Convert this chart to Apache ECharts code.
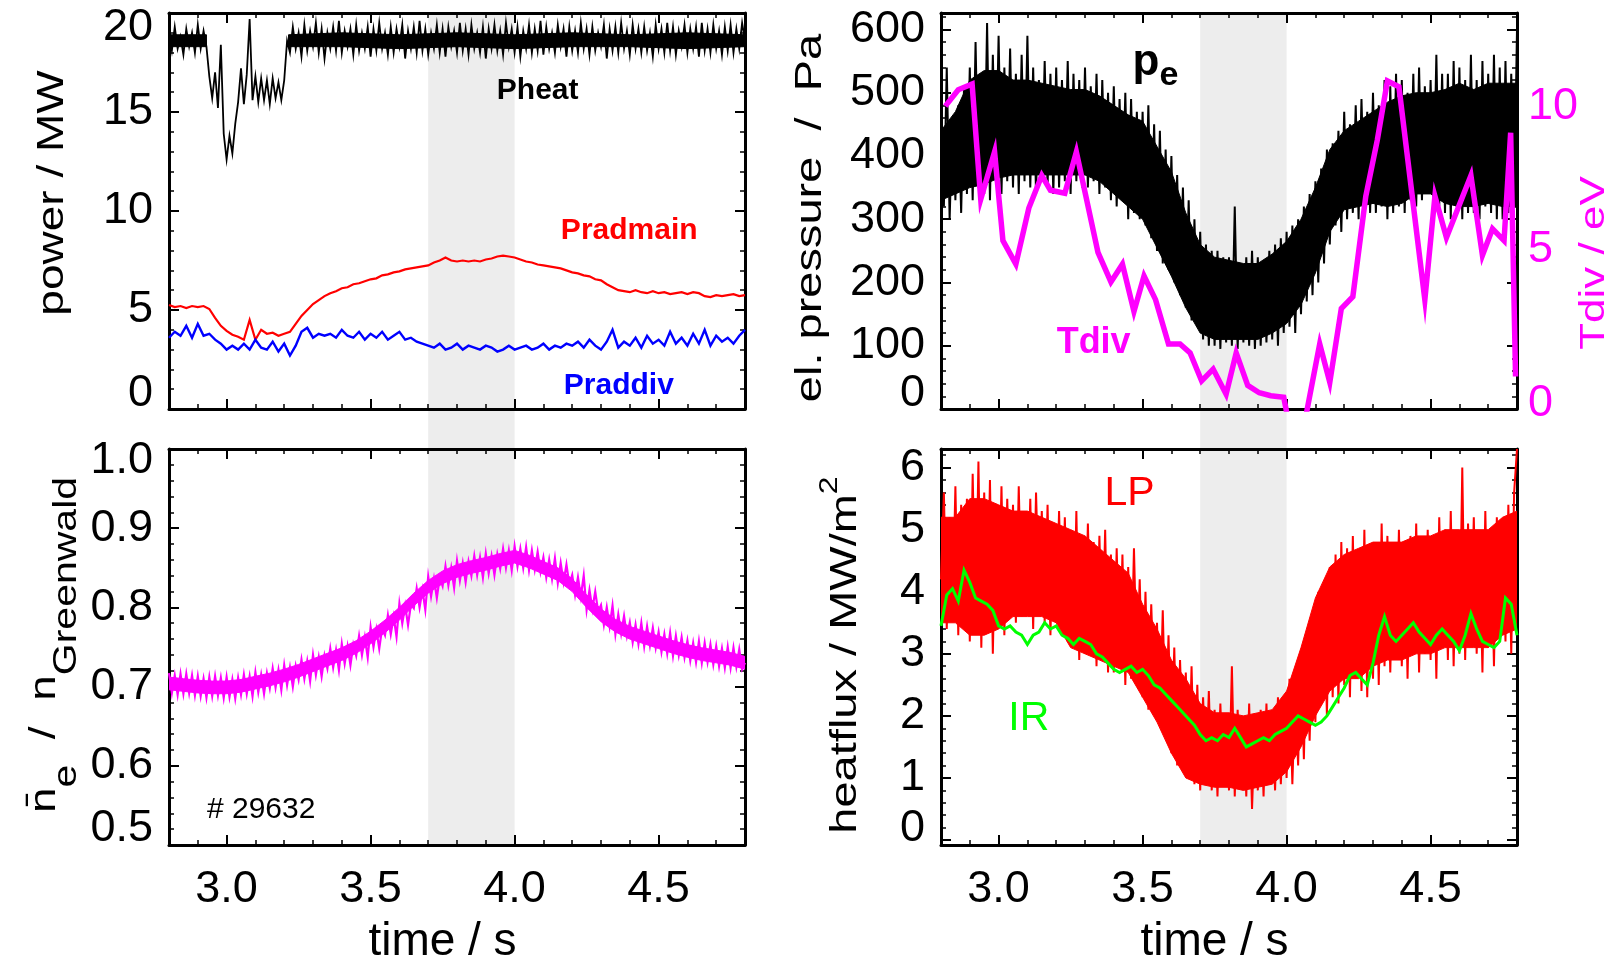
<!DOCTYPE html>
<html>
<head>
<meta charset="utf-8">
<script src="https://cdn.jsdelivr.net/npm/echarts/dist/echarts.min.js"></script>
<style>html,body{margin:0;padding:0;background:#fff}#c{width:1615px;height:966px}</style>
</head>
<body>
<div id="c"></div>
<script>
// ---------------- data ----------------
const T_START = 2.8;          // first sample time of the sampled traces (s)
const DT_FINE = 0.01;         // sampling step of dense traces (s)
const DT_MED = 0.02;          // sampling step of smoother traces (s)
const timeRange = [2.8, 4.8];
const shadeRange = [3.7, 4.0];

// heating power Pheat / MW (every 0.01 s)
const pheat = [
 19.0,18.1,19.3,18.2,18.8,17.9,19.2,18.3,19.0,18.0,19.4,18.2,19.1,18.3,
 16.8,15.7,17.0,15.2,18.4,13.9,12.6,13.8,12.9,14.4,15.5,17.2,15.4,16.9,19.7,15.6,
 16.8,15.5,16.7,15.6,16.6,15.4,16.7,15.7,16.5,15.6,16.6,18.6,
 18.0,19.3,18.2,19.0,17.8,19.4,18.1,19.1,18.3,19.5,
 18.0,19.2,17.7,19.0,18.2,19.3,18.1,19.6,18.0,19.1,
 18.3,19.2,17.9,19.4,18.1,19.0,18.2,19.3,17.8,19.2,
 18.1,19.5,18.2,19.0,17.9,19.3,18.0,19.2,18.3,19.4,
 17.7,19.1,18.2,19.3,18.0,19.6,18.1,19.2,17.9,19.0,
 18.2,19.4,18.0,19.2,17.8,19.3,18.3,19.1,18.0,19.5,
 18.1,19.2,17.9,19.4,18.2,19.0,18.0,19.3,17.7,19.2,
 18.2,19.4,18.1,19.1,17.9,19.5,18.3,19.2,18.0,19.3,
 17.8,19.1,18.2,19.4,18.0,19.2,18.1,19.6,17.9,19.3,
 18.2,19.0,18.0,19.4,18.3,19.2,17.8,19.3,18.1,19.1,
 18.0,19.5,18.2,19.2,17.9,19.3,18.1,19.0,18.3,19.4,
 17.7,19.2,18.1,19.3,18.0,19.5,18.2,19.1,17.9,19.4,
 18.2,19.2,18.0,19.3,18.1,19.0,17.8,19.4,18.2,19.2,
 18.0,19.5,18.1,19.3,17.9,19.1,18.3,19.4,18.0,19.2,
 18.2,19.3,17.8,19.5,18.1,19.2,18.0,19.4,18.2,19.1,
 17.9,19.3,18.1,19.4,18.0,19.2,18.2,19.5,18.6
];
// solid core of the Pheat noise band (null splits the band)
const pheatCoreT  = [2.80,2.93,null,3.215,3.4,3.6,3.8,4.0,4.2,4.4,4.6,4.8];
const pheatCoreLo = [18.3,18.3,null,18.3,18.3,18.2,18.3,18.2,18.3,18.3,18.2,18.3];
const pheatCoreHi = [18.9,18.9,null,18.9,19.0,18.9,19.0,18.9,19.0,18.9,19.0,18.9];
// main chamber radiation Pradmain / MW (every 0.02 s)
const pradmain = [
 5.25,5.15,5.2,5.1,5.2,5.15,5.2,5.05,4.6,4.2,
 3.95,3.75,3.65,3.5,4.5,3.5,4.0,3.8,3.85,3.7,
 3.8,3.9,4.3,4.7,5.0,5.3,5.5,5.7,5.85,5.95,
 6.1,6.15,6.3,6.35,6.45,6.55,6.6,6.75,6.8,6.9,
 6.95,7.05,7.1,7.15,7.2,7.25,7.4,7.5,7.65,7.5,
 7.45,7.5,7.45,7.5,7.45,7.55,7.6,7.7,7.75,7.7,
 7.65,7.55,7.45,7.4,7.3,7.25,7.2,7.15,7.1,7.0,
 6.9,6.85,6.75,6.7,6.55,6.5,6.3,6.15,6.0,5.95,
 5.9,6.0,5.9,5.85,5.95,5.85,5.9,5.8,5.85,5.9,
 5.8,5.9,5.85,5.7,5.65,5.75,5.7,5.75,5.8,5.7,
 5.75
];
// divertor radiation Praddiv / MW (every 0.02 s)
const praddiv = [
 3.6,3.9,3.7,4.2,3.6,4.3,3.7,3.8,3.5,3.3,
 3.0,3.2,3.0,3.3,3.0,3.5,3.1,3.0,3.4,2.9,
 3.3,2.7,3.2,3.9,4.1,3.6,3.8,3.7,3.8,3.6,
 4.0,3.7,3.6,3.9,3.5,3.8,3.6,3.9,3.5,3.7,
 3.9,3.5,3.6,3.4,3.3,3.2,3.1,3.3,3.0,3.1,
 3.3,3.0,3.2,3.1,3.0,3.2,3.1,2.9,3.0,3.2,
 3.0,3.1,3.2,3.0,3.1,3.3,3.0,3.2,3.1,3.3,
 3.2,3.4,3.1,3.5,3.2,3.0,3.4,4.0,3.1,3.4,
 3.2,3.6,3.1,3.7,3.3,3.5,3.2,3.9,3.3,3.6,
 3.2,3.8,3.3,4.0,3.2,3.7,3.4,3.6,3.3,3.7,
 4.0
];
// line averaged density / Greenwald density (every 0.01 s)
const density = [
 0.717,0.692,0.714,0.690,0.716, 0.691,0.716,0.692,0.714,0.689,
 0.713,0.688,0.710,0.686,0.712, 0.688,0.713,0.689,0.711,0.686,
 0.712,0.687,0.709,0.685,0.711, 0.690,0.715,0.691,0.713,0.688,
 0.718,0.693,0.715,0.691,0.717, 0.698,0.723,0.699,0.721,0.696,
 0.727,0.702,0.724,0.700,0.726, 0.709,0.734,0.710,0.732,0.707,
 0.740,0.715,0.737,0.713,0.739, 0.723,0.748,0.724,0.746,0.721,
 0.754,0.729,0.751,0.727,0.753, 0.739,0.764,0.740,0.762,0.737,
 0.775,0.750,0.772,0.748,0.774, 0.765,0.790,0.766,0.788,0.763,
 0.805,0.780,0.802,0.778,0.804, 0.799,0.824,0.800,0.822,0.797,
 0.839,0.814,0.836,0.812,0.838, 0.827,0.852,0.828,0.850,0.825,
 0.859,0.834,0.856,0.832,0.858, 0.840,0.865,0.841,0.863,0.838,
 0.868,0.843,0.865,0.841,0.867, 0.849,0.874,0.850,0.872,0.847,
 0.877,0.852,0.874,0.850,0.876, 0.847,0.872,0.848,0.870,0.845,
 0.863,0.838,0.860,0.836,0.862, 0.831,0.856,0.832,0.854,0.829,
 0.841,0.816,0.838,0.814,0.840, 0.797,0.822,0.798,0.820,0.795,
 0.803,0.778,0.800,0.776,0.802, 0.766,0.791,0.767,0.789,0.764,
 0.781,0.756,0.778,0.754,0.780, 0.751,0.776,0.752,0.774,0.749,
 0.769,0.744,0.766,0.742,0.768, 0.739,0.764,0.740,0.762,0.737,
 0.758,0.733,0.755,0.731,0.757, 0.730,0.755,0.731,0.753,0.728,
 0.751,0.726,0.748,0.724,0.750, 0.724,0.749,0.725,0.747,0.722,
 0.730
];
// solid core of the density band (every 0.05 s)
const coreT = [2.80,2.85,2.90,2.95,3.00,3.05,3.10,3.15,3.20,3.25,3.30,3.35,3.40,3.45,3.50,3.55,3.60,3.65,3.70,3.75,
 3.80,3.85,3.90,3.95,4.00,4.05,4.10,4.15,4.20,4.25,4.30,4.35,4.40,4.45,4.50,4.55,4.60,4.65,4.70,4.75,4.80];
const densityCoreLo = [.696,.694,.692,.691,.691,.693,.697,.701,.706,.712,.719,.726,.733,.742,.754,.768,.784,.802,.818,.830,
 .838,.843,.847,.852,.856,.850,.842,.834,.820,.800,.782,.769,.760,.754,.748,.742,.737,.733,.730,.727,.722];
const densityCoreHi = [.712,.710,.708,.707,.707,.709,.713,.717,.722,.728,.735,.742,.749,.758,.770,.784,.800,.818,.834,.846,
 .854,.859,.863,.868,.872,.866,.858,.850,.836,.816,.798,.785,.776,.770,.764,.758,.753,.749,.746,.743,.738];
// electron pressure pe / Pa (every 0.01 s)
const pe = [
 430,320,540,300,460, 330,480,310,510,340, 540,330,580,350,520, 340,610,330,560,360,
 590,340,540,360,570, 350,530,340,560,360, 590,350,540,340,520, 360,550,350,530,340,
 540,350,520,360,550, 340,530,360,520,350, 540,350,510,360,530, 340,520,350,500,330,
 510,320,490,330,500, 300,490,310,470,300, 470,290,480,270,450, 250,440,230,410,220,
 400,200,370,180,350, 160,330,140,300,130, 280,110,260,100,250, 100,250,95,240,105,
 240,100,320,95,230, 105,240,100,250,95, 240,100,230,105,250, 110,260,100,270,120,
 280,130,290,120,300, 150,320,170,340,180, 360,200,380,230,410, 260,420,290,440,280,
 470,300,450,310,480, 300,490,320,470,310, 500,310,480,320,520, 300,510,310,530,320,
 520,310,500,330,530, 320,540,330,510,340, 520,330,560,320,530, 310,530,300,550,320,
 540,300,520,310,560, 310,520,300,550,320, 530,310,560,300,540, 300,550,310,530,320,
 600
];
// solid core of the pe band (every 0.05 s)
const peCoreLo = [330,340,350,355,365,370,370,370,370,370,370,360,340,320,300,255,210,160,120,110,
 110,110,110,120,135,165,215,280,315,320,325,320,325,340,340,325,320,320,325,320,320];
const peCoreHi = [440,470,520,535,535,520,520,515,510,505,505,495,480,465,455,415,375,310,260,240,
 235,230,230,245,265,300,350,410,440,455,470,485,495,500,500,505,515,505,515,515,515];
// divertor temperature Tdiv / eV (vertices of the polyline)
const tdivTime = [2.815,2.86,2.908,2.938,2.986,3.015,3.06,3.105,3.15,3.18,3.23,3.27,3.345,3.39,3.43,3.47,
 3.505,3.545,3.59,3.63,3.665,3.705,3.745,3.79,3.825,3.865,3.905,3.945,3.99,4.02,4.05,4.115,4.15,4.19,
 4.23,4.275,4.315,4.35,4.39,4.48,4.515,4.555,4.64,4.68,4.715,4.755,4.778,4.795];
const tdivVal = [9.85,10.4,10.6,6.7,8.3,5.3,4.5,6.4,7.5,7.0,6.9,8.3,4.9,3.9,4.5,2.9,
 4.1,3.3,1.8,1.8,1.5,0.55,0.95,0.1,1.5,0.4,0.15,0.05,0.0,-1.5,-1.5,1.8,0.5,3.0,
 3.4,6.8,8.7,10.7,10.5,3.3,6.8,5.4,7.5,4.8,5.7,5.3,8.95,0.7];
// heat flux from Langmuir probes, LP / MW m^-2 (every 0.01 s)
const lp = [
 4.2,5.6,3.4,5.2,3.6, 5.7,3.3,5.4,3.8,5.5, 3.2,5.9,3.5,6.1,3.1, 5.6,3.4,5.8,3.0,5.3,
 3.6,5.7,3.3,5.5,3.8, 5.4,3.5,5.7,3.6,5.2, 3.7,5.5,3.4,5.6,3.9, 5.3,3.5,5.4,3.3,5.1,
 3.6,5.3,3.4,5.2,3.2, 5.0,3.1,5.3,2.9,4.9, 3.0,5.1,3.3,4.8,2.8, 4.9,3.1,5.0,2.7,4.6,
 2.7,4.7,2.9,4.6,2.5, 4.4,2.6,4.7,2.8,4.2, 2.3,4.0,2.1,3.8,2.4, 3.5,1.9,3.7,1.8,3.3,
 1.4,3.1,1.2,2.9,1.5, 2.7,1.0,2.8,0.9,2.5, 0.8,2.3,1.0,2.4,0.8, 2.1,0.7,2.2,0.9,2.0,
 0.8,2.8,0.7,2.1,0.9, 2.0,0.7,2.2,0.5,1.9, 0.8,2.1,0.7,2.2,0.9, 2.0,0.8,2.3,0.9,2.1,
 1.0,2.6,0.9,2.4,1.2, 3.0,1.3,3.3,1.6,3.5, 1.9,4.0,2.2,4.1,2.0, 4.4,2.3,4.6,2.2,4.8,
 2.5,4.7,2.3,4.9,2.6, 4.6,2.4,5.0,2.3,4.7, 2.6,4.8,2.5,5.1,2.8, 4.9,2.7,4.6,2.9,5.0,
 2.8,4.8,2.6,4.9,3.0, 5.1,2.7,4.8,3.0,5.0, 2.9,4.9,2.6,5.2,3.1, 5.0,2.9,5.3,2.8,4.9,
 3.0,6.0,2.9,5.1,3.2, 5.2,3.0,4.9,2.7,5.3, 3.1,5.0,2.8,5.2,3.3, 5.1,3.2,5.4,3.0,5.6,
 6.3
];
// solid core of the LP band (every 0.05 s)
const lpCoreLo = [3.5,3.5,3.3,3.3,3.4,3.6,3.6,3.6,3.5,3.1,3.0,2.9,2.8,2.7,2.3,1.9,1.4,1.0,0.9,0.85,
 0.85,0.8,0.85,0.9,1.1,1.5,2.0,2.4,2.6,2.6,2.8,2.9,2.9,3.0,3.0,3.1,3.1,3.1,3.1,3.3,3.4];
const lpCoreHi = [5.2,5.2,5.5,5.5,5.4,5.3,5.3,5.2,5.1,5.0,4.9,4.7,4.5,4.3,3.8,3.4,2.9,2.6,2.2,2.05,
 2.05,2.0,2.05,2.1,2.4,3.1,3.9,4.4,4.6,4.7,4.8,4.8,4.8,4.9,4.9,5.0,5.0,5.0,5.0,5.2,5.3];
// heat flux from infrared thermography, IR / MW m^-2 (every 0.02 s)
const ir = [
 3.45,3.95,4.05,3.85,4.35,4.15,3.9,3.85,3.8,3.7,
 3.45,3.4,3.45,3.35,3.3,3.15,3.3,3.35,3.5,3.4,
 3.45,3.3,3.25,3.15,3.25,3.2,3.15,3.0,2.95,2.85,
 2.75,2.7,2.75,2.8,2.7,2.75,2.65,2.5,2.45,2.35,
 2.25,2.15,2.05,1.95,1.85,1.7,1.6,1.65,1.6,1.7,
 1.65,1.8,1.65,1.5,1.55,1.6,1.65,1.6,1.7,1.75,
 1.8,1.9,2.0,1.95,1.9,1.85,1.9,2.0,2.15,2.3,
 2.45,2.65,2.7,2.6,2.5,2.85,3.3,3.6,3.3,3.2,
 3.3,3.4,3.5,3.35,3.25,3.15,3.3,3.4,3.3,3.2,
 3.05,3.3,3.65,3.4,3.2,3.15,3.1,3.2,3.9,3.8,
 3.3
];
// in-plot annotations: [time, value] in the coordinates of the panel
const notes = [
  {axes:[0,0], at:[4.080, 16.05], text:'Pheat',   color:'#000000', size:30, weight:'bold'},
  {axes:[0,0], at:[4.398, 9.0],   text:'Pradmain',color:'#ff0000', size:30, weight:'bold'},
  {axes:[0,0], at:[4.362, 1.2],   text:'Praddiv', color:'#0000ff', size:30, weight:'bold'},
  {axes:[4,4], at:[3.330, 104],   text:'Tdiv',    color:'#ff00ff', size:36, weight:'bold'},
  {axes:[6,7], at:[3.455, 5.58],  text:'LP',      color:'#ff0000', size:41, weight:'normal'},
  {axes:[6,7], at:[3.105, 1.95],  text:'IR',      color:'#00ff00', size:41, weight:'normal'},
  {axes:[2,2], at:[3.120, 0.545], text:'# 29632', color:'#000000', size:30, weight:'normal'}
];
const peNote = {axes:[4,4], at:[3.465, 582]};

// ---------------- chart ----------------
const FONT = '"Liberation Sans", Arial, Helvetica, sans-serif';
const sampled = (vals, dt) => vals.map((v, i) => [+(T_START + i * dt).toFixed(3), v]);
const zip = (a, b) => a.map((x, i) => [x, b[i]]);

const GL = 169, GR = 941, GW = 576, GT = 13, GB = 449, GH = 396;
const grids = [
  {left:GL, top:GT, width:GW, height:GH},
  {left:GL, top:GB, width:GW, height:GH},
  {left:GR, top:GT, width:GW, height:GH},
  {left:GR, top:GB, width:GW, height:GH},
  {left:GL, top:GT, width:GW, height:GB + GH - GT},
  {left:GR, top:GT, width:GW, height:GB + GH - GT}
].map(g => Object.assign({containLabel:false, outerBoundsMode:'none', show:false}, g));

function tickCommon() {
  return {
    axisTick:{show:true, inside:true, length:10, lineStyle:{color:'#000', width:2}},
    minorTick:{show:true, splitNumber:5, length:5, lineStyle:{color:'#000', width:1.5}},
    splitLine:{show:false}, minorSplitLine:{show:false}
  };
}
function xAx(grid, pos, labels) {
  return Object.assign({
    type:'value', gridIndex:grid, position:pos, min:timeRange[0], max:timeRange[1], splitNumber:4, z:1.5,
    axisLine:{show:true, onZero:false, lineStyle:{color:'#000', width:3}},
    axisLabel:{show:labels, showMinLabel:false, showMaxLabel:false, margin:22, fontSize:45, lineHeight:45,
      fontFamily:FONT, color:'#000', formatter:v => v.toFixed(1)},
    name: labels ? 'time / s' : '', nameLocation:'middle', nameGap:74,
    nameTextStyle:{fontSize:46, lineHeight:46, fontFamily:FONT, color:'#000', padding:[0,29,0,0]}
  }, tickCommon());
}
// shifts: list of [tick value, pixels to move the label up (negative = down)]
function yAx(o) {
  const fmt = o.fmt || (v => String(Math.round(v)));
  const col = o.color || '#000';
  const shifts = o.shifts || [];
  const rich = {};
  shifts.forEach((s, i) => {
    rich['k' + i] = {fontSize:45, fontFamily:FONT, color:col,
      padding: s[1] > 0 ? [0,0,2*s[1],0] : [-2*s[1],0,0,0]};
  });
  const ax = Object.assign({
    type:'value', gridIndex:o.grid, position:o.pos, min:o.min, max:o.max, z:1.5,
    axisLine:{show:o.line !== false, onZero:false, lineStyle:{color:'#000', width:3}},
    axisLabel:{
      show: !!o.labels, margin: o.margin || 16, fontSize:45, fontFamily:FONT, color:col,
      showMinLabel: o.showMin !== false, showMaxLabel: o.showMax !== false,
      formatter: v => {
        const s = fmt(v);
        for (let i = 0; i < shifts.length; i++) {
          if (Math.abs(v - shifts[i][0]) < 1e-9) return '{k' + i + '|' + s + '}';
        }
        return s;
      },
      rich: rich
    }
  }, tickCommon());
  if (o.interval != null) ax.interval = o.interval;
  if (o.splitNumber != null) ax.splitNumber = o.splitNumber;
  if (o.ticks === false) { ax.axisTick.show = false; ax.minorTick.show = false; }
  return ax;
}

const xAxes = [
  xAx(0,'bottom',false), xAx(0,'top',false),
  xAx(1,'bottom',true),  xAx(1,'top',false),
  xAx(2,'bottom',false), xAx(2,'top',false),
  xAx(3,'bottom',true),  xAx(3,'top',false),
  {type:'value', gridIndex:4, min:timeRange[0], max:timeRange[1], show:false},
  {type:'value', gridIndex:5, min:timeRange[0], max:timeRange[1], show:false}
];
const yAxes = [
  yAx({grid:0, pos:'left', min:0, max:20, interval:5, labels:true, shifts:[[0,15],[20,-15]]}),
  yAx({grid:0, pos:'right', min:0, max:20, interval:5}),
  yAx({grid:1, pos:'left', min:0.5, max:1.0, interval:0.1, labels:true, fmt:v => v.toFixed(1),
       shifts:[[0.5,16],[1.0,-12]]}),
  yAx({grid:1, pos:'right', min:0.5, max:1.0, interval:0.1}),
  yAx({grid:2, pos:'left', min:0, max:626, interval:100, labels:true, showMax:false, shifts:[[0,15]]}),
  yAx({grid:2, pos:'right', min:0, max:626, interval:100}),
  yAx({grid:2, pos:'right', min:-0.4, max:13, splitNumber:3, labels:true, showMin:false, showMax:false,
       line:false, ticks:false, margin:11, color:'#ff00ff', shifts:[[0,-6],[10,-5]]}),
  yAx({grid:3, pos:'left', min:-0.08, max:6.3, splitNumber:6, labels:true, showMin:false, showMax:false,
       shifts:[[0,11]]}),
  yAx({grid:3, pos:'right', min:-0.08, max:6.3, splitNumber:6}),
  {type:'value', gridIndex:4, min:0, max:1, show:false},
  {type:'value', gridIndex:5, min:0, max:1, show:false}
];

function line(xi, yi, data, color, width, extra) {
  return Object.assign({type:'line', xAxisIndex:xi, yAxisIndex:yi, data:data, symbol:'none', silent:true,
    animation:false, clip:true, lineStyle:{color:color, width:width, join:'miter'}, z:2}, extra || {});
}
// filled core band between a lower and an upper trace, drawn through the axis scales
function band(xi, yi, times, lo, hi, color) {
  return {type:'custom', xAxisIndex:xi, yAxisIndex:yi, data:[[times[0], lo[0]]], silent:true, clip:true,
    animation:false, z:2,
    renderItem: (params, api) => {
      const children = [];
      let up = [], dn = [];
      const flush = () => {
        if (up.length > 1) children.push({type:'polygon', shape:{points: up.concat(dn.reverse())},
          style:{fill:color, stroke:color, lineWidth:1}});
        up = []; dn = [];
      };
      for (let i = 0; i < times.length; i++) {
        if (times[i] == null) { flush(); continue; }
        up.push(api.coord([times[i], hi[i]]));
        dn.push(api.coord([times[i], lo[i]]));
      }
      flush();
      return {type:'group', children:children};
    }};
}
function shade(xi, yi) {
  return {type:'line', xAxisIndex:xi, yAxisIndex:yi, data:[[timeRange[0], 0]], symbol:'none', silent:true,
    lineStyle:{opacity:0}, z:0, animation:false,
    markArea:{silent:true, z:1, itemStyle:{color:'#ededed'}, data:[[{xAxis:shadeRange[0]}, {xAxis:shadeRange[1]}]]}};
}

const chart = echarts.init(document.getElementById('c'), null, {renderer:'canvas', width:1615, height:966});
chart.setOption({
  animation:false,
  backgroundColor:'#ffffff',
  textStyle:{fontFamily:FONT},
  grid: grids,
  xAxis: xAxes,
  yAxis: yAxes,
  series: [
    shade(8, 9), shade(9, 10),
    band(0, 0, pheatCoreT, pheatCoreLo, pheatCoreHi, '#000000'),
    line(0, 0, sampled(pheat, DT_FINE), '#000000', 1.8),
    line(0, 0, sampled(pradmain, DT_MED), '#ff0000', 2.2),
    line(0, 0, sampled(praddiv, DT_MED), '#0000ff', 2.4),
    band(2, 2, coreT, densityCoreLo, densityCoreHi, '#ff00ff'),
    line(2, 2, sampled(density, DT_FINE), '#ff00ff', 2.2),
    band(4, 4, coreT, peCoreLo, peCoreHi, '#000000'),
    line(4, 4, sampled(pe, DT_FINE), '#000000', 2),
    line(4, 6, zip(tdivTime, tdivVal), '#ff00ff', 5.5, {z:3}),
    band(6, 7, coreT, lpCoreLo, lpCoreHi, '#ff0000'),
    line(6, 7, sampled(lp, DT_FINE), '#ff0000', 2),
    line(6, 7, sampled(ir, DT_MED), '#00ff00', 3, {z:3})
  ]
});

// annotations placed through the axes' own scales
const gfx = notes.map(n => {
  const p = chart.convertToPixel({xAxisIndex:n.axes[0], yAxisIndex:n.axes[1]}, n.at);
  return {type:'text', x:p[0], y:p[1], z:10, silent:true,
    style:{text:n.text, fill:n.color, font:n.weight + ' ' + n.size + 'px ' + FONT, align:'center', verticalAlign:'middle'}};
});
const pp = chart.convertToPixel({xAxisIndex:peNote.axes[0], yAxisIndex:peNote.axes[1]}, peNote.at);
gfx.push({type:'text', x:pp[0], y:pp[1], z:10, silent:true,
  style:{text:'{p|p}{e|e}', align:'left', verticalAlign:'top',
    rich:{
      p:{fontSize:44, fontWeight:'bold', fontFamily:FONT, fill:'#000', lineHeight:44, verticalAlign:'top'},
      e:{fontSize:34, fontWeight:'bold', fontFamily:FONT, fill:'#000', lineHeight:34, verticalAlign:'top', padding:[18,0,0,0]}
    }}});

// rotated axis titles (slightly compressed across the reading direction, as in the original)
const TS = 0.8;
const mid = (GT + GH / 2), midB = (GB + GH / 2);
const titles = [
  {x: GL - 116, y: mid - 18, text:'power / MW', size:46, color:'#000'},
  {x: GR - 130, y: mid + 7, text:'el. pressure  /  Pa', size:47, color:'#000'},
  {x: GR + GW + 77, y: mid + 52, text:'Tdiv / eV', size:44, color:'#ff00ff'},
  {x: GL - 124, y: midB - 2, rich:true, text:'{n|n\u0304}{s|e}{n|  /  n}{s|Greenwald}',
   richStyle:{
     n:{fontSize:46, lineHeight:46, fontFamily:FONT, fill:'#000', verticalAlign:'top'},
     s:{fontSize:41, lineHeight:46, fontFamily:FONT, fill:'#000', verticalAlign:'top', padding:[30,0,0,0]}
   }},
  {x: GR - 105, y: midB + 8, rich:true, text:'{a|heatflux / MW/m}{b|2}',
   richStyle:{
     a:{fontSize:47, lineHeight:46, fontFamily:FONT, fill:'#000', verticalAlign:'top', padding:[11,0,0,0]},
     b:{fontSize:32, lineHeight:32, fontFamily:FONT, fill:'#000', verticalAlign:'top'}
   }}
];
titles.forEach(t => {
  const style = {text:t.text, align:'center', verticalAlign:'middle'};
  if (t.rich) { style.rich = t.richStyle; style.font = '46px ' + FONT; style.fill = '#000'; }
  else { style.fill = t.color; style.font = t.size + 'px ' + FONT; }
  gfx.push({type:'text', x:t.x, y:t.y, rotation:Math.PI / 2, scaleY:TS, z:10, silent:true, style:style});
});
chart.setOption({graphic: gfx});
</script>
</body>
</html>
